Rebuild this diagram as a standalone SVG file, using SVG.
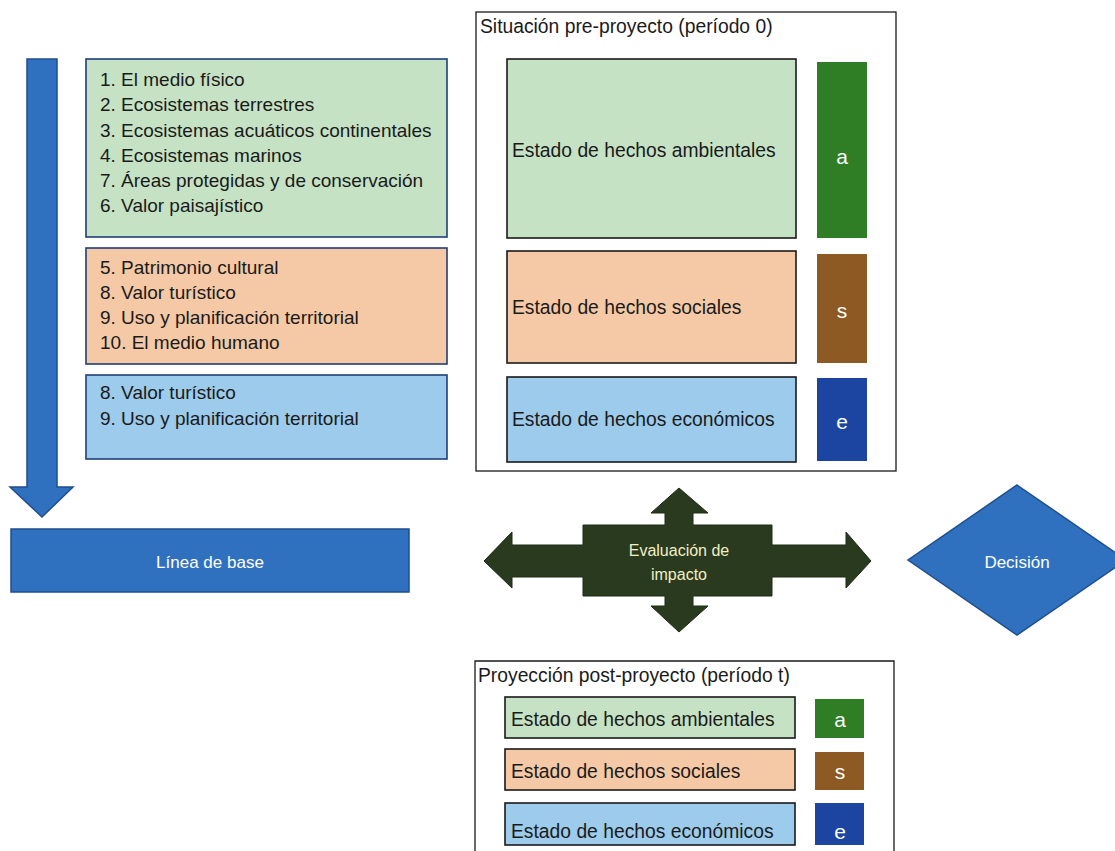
<svg xmlns="http://www.w3.org/2000/svg" width="1115" height="851" viewBox="0 0 1115 851">
<style>
text{font-family:"Liberation Sans",Arial,sans-serif;}
.t{font-size:19px;fill:#1a1a1a;}
.s{font-size:19.3px;fill:#1a1a1a;}
.tag{font-size:21px;fill:#ffffff;text-anchor:middle;}
.w{fill:#ffffff;text-anchor:middle;font-size:17px;}
.lg{fill:#c6e2c4;stroke:#1f3f7a;stroke-width:1.6;}
.lo{fill:#f5c9a5;stroke:#1f3f7a;stroke-width:1.6;}
.lb{fill:#9ccbec;stroke:#1f3f7a;stroke-width:1.6;}
.ig{fill:#c6e2c4;stroke:#1a1a1a;stroke-width:1.6;}
.io{fill:#f5c9a5;stroke:#1a1a1a;stroke-width:1.6;}
.ib{fill:#9ccbec;stroke:#1a1a1a;stroke-width:1.6;}
.ta{fill:#2f7d25;}
.ts{fill:#8d5a24;}
.te{fill:#1c45a2;}
.cont{fill:#ffffff;stroke:#1a1a1a;stroke-width:1.3;}
.blue{fill:#2f71bf;stroke:#1f4e8e;stroke-width:1.5;}
</style>

<g id="connectors">
  <path id="flow-arrow" class="blue" d="M27,59 L57,59 L57,487 L73,487 L42,517 L10,487 L27,487 Z"/>
</g>

<g id="linea-base-items">
  <rect class="lg" x="86" y="59" width="361" height="178"/>
  <text class="t" x="100" y="86">1. El medio físico</text>
  <text class="t" x="100" y="111">2. Ecosistemas terrestres</text>
  <text class="t" x="100" y="137">3. Ecosistemas acuáticos continentales</text>
  <text class="t" x="100" y="162">4. Ecosistemas marinos</text>
  <text class="t" x="100" y="187">7. Áreas protegidas y de conservación</text>
  <text class="t" x="100" y="212">6. Valor paisajístico</text>
</g>
<g id="social-items">
  <rect class="lo" x="86" y="248" width="361" height="116"/>
  <text class="t" x="100" y="274">5. Patrimonio cultural</text>
  <text class="t" x="100" y="299">8. Valor turístico</text>
  <text class="t" x="100" y="324">9. Uso y planificación territorial</text>
  <text class="t" x="100" y="349">10. El medio humano</text>
</g>
<g id="economic-items">
  <rect class="lb" x="86" y="375" width="361" height="84"/>
  <text class="t" x="100" y="399">8. Valor turístico</text>
  <text class="t" x="100" y="425">9. Uso y planificación territorial</text>
</g>

<g id="linea-de-base">
  <rect class="blue" x="11" y="529" width="398" height="63"/>
  <text class="w" x="210" y="568">Línea de base</text>
</g>

<g id="pre-proyecto">
  <rect class="cont" x="476" y="12" width="420" height="459"/>
  <text class="s" x="480" y="33">Situación pre-proyecto (período 0)</text>
  <rect class="ig" x="507" y="59" width="289" height="179"/>
  <text class="s" x="512" y="157">Estado de hechos ambientales</text>
  <rect class="ta" x="817" y="62" width="50" height="176"/>
  <text class="tag" x="842" y="164">a</text>
  <rect class="io" x="507" y="251" width="289" height="112"/>
  <text class="s" x="512" y="314">Estado de hechos sociales</text>
  <rect class="ts" x="817" y="254" width="50" height="109"/>
  <text class="tag" x="842" y="318">s</text>
  <rect class="ib" x="507" y="377" width="289" height="85"/>
  <text class="s" x="512" y="426">Estado de hechos económicos</text>
  <rect class="te" x="817" y="378" width="50" height="83"/>
  <text class="tag" x="842" y="429">e</text>
</g>

<g id="evaluacion">
  <path fill="#2a3a1e" stroke="#1d2a14" stroke-width="1" d="M583,525 L665,525 L665,513 L651,513 L679,488 L708,513 L693,513 L693,525 L772,525 L772,545 L846,545 L846,532 L871,561 L846,588 L846,577 L772,577 L772,596 L693,596 L693,606 L708,606 L679,632 L651,606 L665,606 L665,596 L583,596 L583,577 L512,577 L512,588 L484,561 L512,532 L512,545 L583,545 Z"/>
  <text x="679" y="556" font-size="16" fill="#f1efc6" text-anchor="middle">Evaluación de</text>
  <text x="679" y="580" font-size="16" fill="#f1efc6" text-anchor="middle">impacto</text>
</g>

<g id="decision">
  <path class="blue" d="M1017,485 L1126,560 L1017,635 L908,560 Z"/>
  <text class="w" x="1017" y="568">Decisión</text>
</g>

<g id="post-proyecto">
  <path fill="#ffffff" stroke="#1a1a1a" stroke-width="1.3" d="M475,851 L475,661 L894,661 L894,851"/>
  <text class="s" x="478" y="682">Proyección post-proyecto (período t)</text>
  <rect class="ig" x="505" y="697" width="290" height="41"/>
  <text class="s" x="511" y="726">Estado de hechos ambientales</text>
  <rect class="ta" x="815" y="699" width="49" height="39"/>
  <text class="tag" x="840" y="727">a</text>
  <rect class="io" x="505" y="749" width="290" height="41"/>
  <text class="s" x="511" y="778">Estado de hechos sociales</text>
  <rect class="ts" x="815" y="752" width="49" height="38"/>
  <text class="tag" x="840" y="779">s</text>
  <rect class="ib" x="505" y="803" width="290" height="42"/>
  <text class="s" x="511" y="838">Estado de hechos económicos</text>
  <rect class="te" x="815" y="803" width="49" height="42"/>
  <text class="tag" x="840" y="839">e</text>
</g>
</svg>
